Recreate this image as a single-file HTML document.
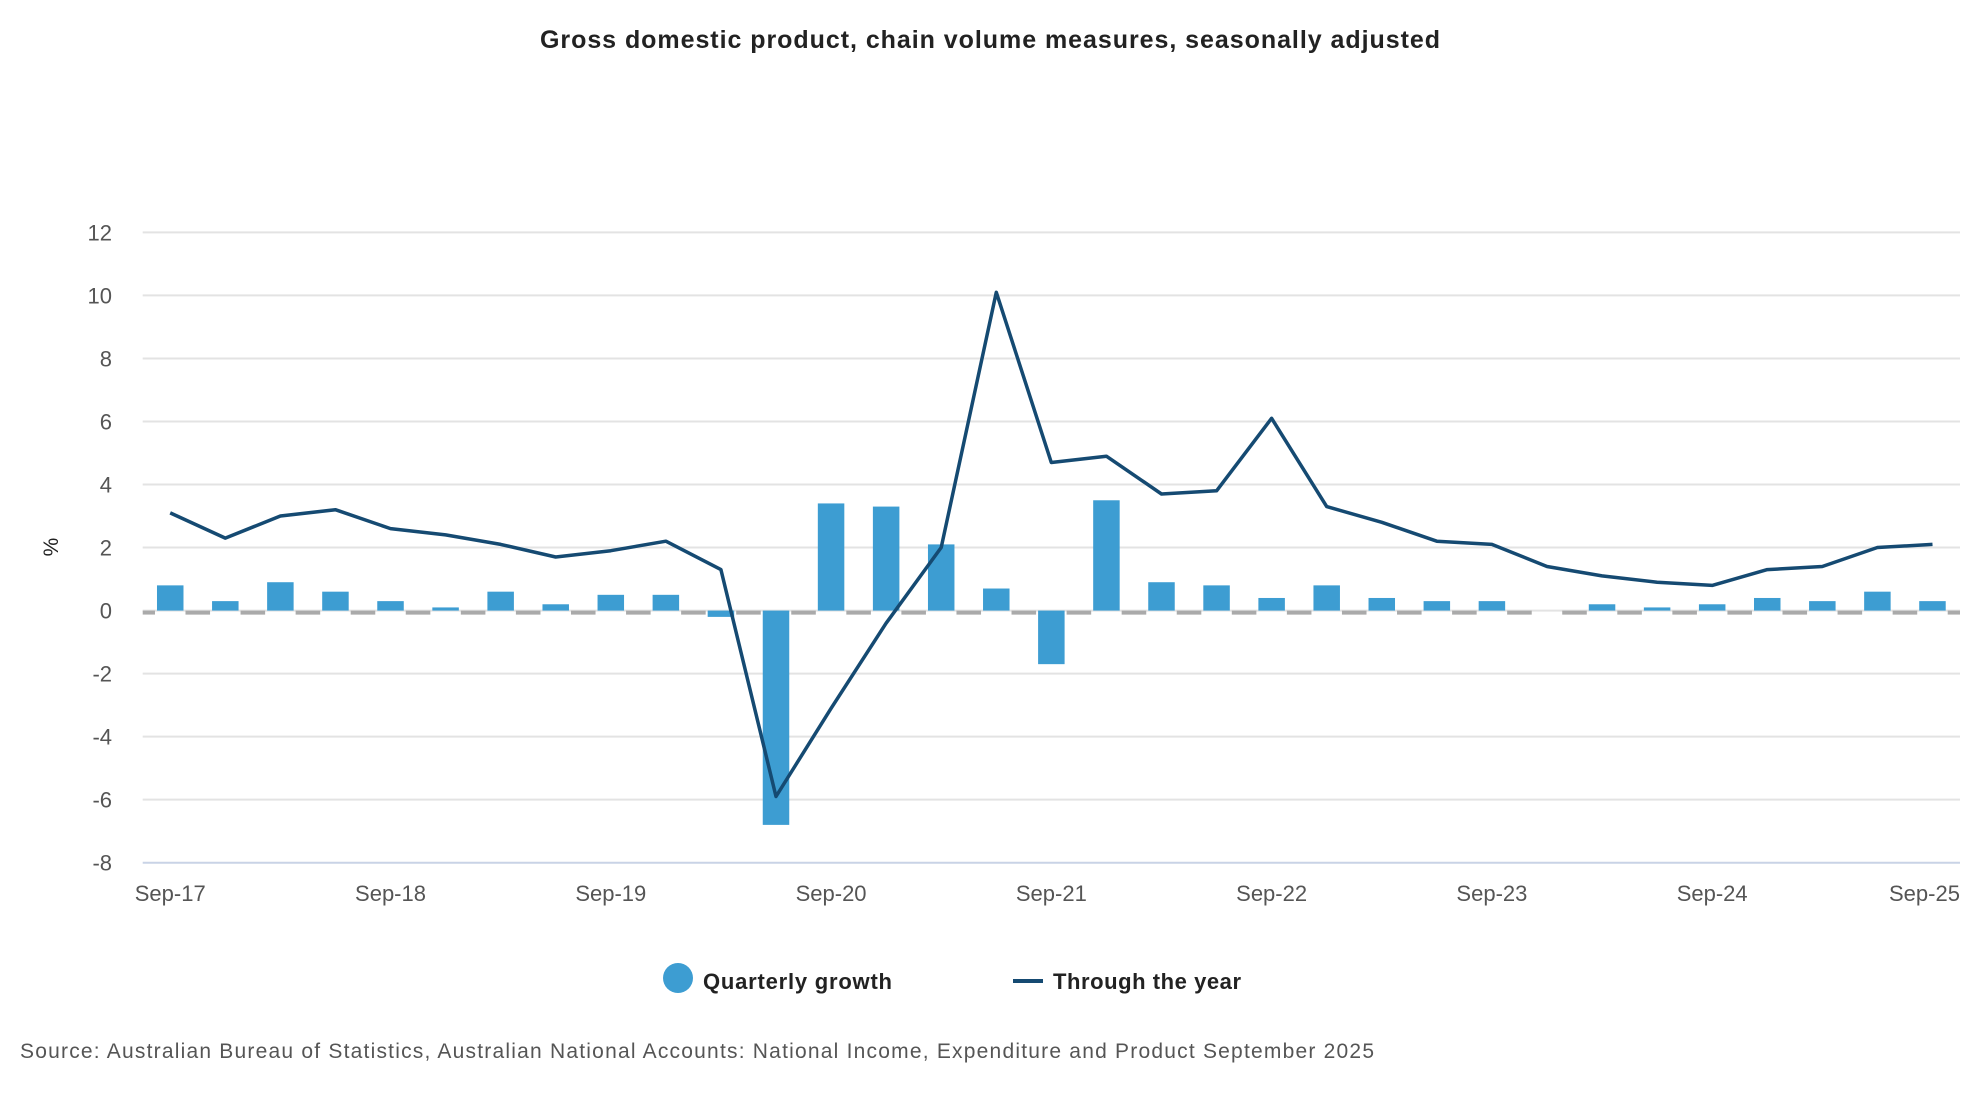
<!DOCTYPE html>
<html><head><meta charset="utf-8"><style>
html,body{margin:0;padding:0;background:#fff;}
svg{display:block;font-family:"Liberation Sans",sans-serif;}
</style></head><body>
<svg id="chart" width="1980" height="1100" viewBox="0 0 1980 1100">
<text x="990" y="48" text-anchor="middle" font-size="25" font-weight="bold" fill="#222" textLength="900">Gross domestic product, chain volume measures, seasonally adjusted</text>
<g id="grid"></g>
<g id="yticks"></g>
<text transform="translate(58,547) rotate(-90)" text-anchor="middle" font-size="21" fill="#222">%</text>
<g id="zero"></g>
<g id="bars"></g>
<path id="line" fill="none" stroke="#154a72" stroke-width="3.5" stroke-linejoin="round"/>
<g id="xticks"></g>
<g>
<circle cx="678" cy="978" r="15" fill="#3d9dd2"/>
<text x="703" y="989" font-size="22" font-weight="bold" fill="#222" textLength="189">Quarterly growth</text>
<line x1="1013" y1="981" x2="1043" y2="981" stroke="#154a72" stroke-width="4"/>
<text x="1053" y="989" font-size="22" font-weight="bold" fill="#222" textLength="188">Through the year</text>
</g>
<text x="20" y="1058" font-size="21" fill="#555" textLength="1354">Source: Australian Bureau of Statistics, Australian National Accounts: National Income, Expenditure and Product September 2025</text>
</svg>
<script>
const categories=["Sep-17","Dec-17","Mar-18","Jun-18","Sep-18","Dec-18","Mar-19","Jun-19","Sep-19","Dec-19","Mar-20","Jun-20","Sep-20","Dec-20","Mar-21","Jun-21","Sep-21","Dec-21","Mar-22","Jun-22","Sep-22","Dec-22","Mar-23","Jun-23","Sep-23","Dec-23","Mar-24","Jun-24","Sep-24","Dec-24","Mar-25","Jun-25","Sep-25"];
const quarterly=[0.8,0.3,0.9,0.6,0.3,0.1,0.6,0.2,0.5,0.5,-0.2,-6.8,3.4,3.3,2.1,0.7,-1.7,3.5,0.9,0.8,0.4,0.8,0.4,0.3,0.3,0.0,0.2,0.1,0.2,0.4,0.3,0.6,0.3];
const throughYear=[3.1,2.3,3.0,3.2,2.6,2.4,2.1,1.7,1.9,2.2,1.3,-5.9,-3.1,-0.4,2.0,10.1,4.7,4.9,3.7,3.8,6.1,3.3,2.8,2.2,2.1,1.4,1.1,0.9,0.8,1.3,1.4,2.0,2.1];
const yTicks=[12,10,8,6,4,2,0,-2,-4,-6,-8];
const xLabelIdx=[0,4,8,12,16,20,24,28,32];
const NS="http://www.w3.org/2000/svg";
const L=142.7,R=1960,yMin=-8,yMax=12,yTop=232.4,yBot=862.7;
const band=(R-L)/categories.length;
const x=i=>L+band*(i+0.5);
const y=v=>yBot-(v-yMin)/(yMax-yMin)*(yBot-yTop);
function mk(tag,attrs,parent){const e=document.createElementNS(NS,tag);for(const k in attrs)e.setAttribute(k,attrs[k]);document.getElementById(parent).appendChild(e);return e;}
yTicks.forEach(t=>{
 const g=mk('line',{x1:L,x2:R,y1:y(t),y2:y(t),stroke:t===yMin?'#c9d3e6':'#e3e3e3','stroke-width':2},'grid');
 
 
 const tx=mk('text',{x:112,y:y(t)+8,'text-anchor':'end','font-size':22,fill:'#555'},'yticks');
 tx.textContent=t;
 
 
});
const bw=26.5;
mk('line',{x1:L,x2:x(0)-bw/2-2,y1:y(0)+2,y2:y(0)+2,stroke:'#aaa','stroke-width':4},'zero');
categories.forEach((c,i)=>{
 const x2=i<categories.length-1?x(i+1)-bw/2-2:R;
 const d=mk('line',{x1:x(i)+bw/2+2,x2:x2,y1:y(0)+2,y2:y(0)+2,stroke:'#aaa','stroke-width':4},'zero');
 
 
 const v=quarterly[i];
 if(v!==0){
  const b=mk('rect',{x:x(i)-bw/2,width:bw,y:Math.min(y(v),y(0)),height:Math.abs(y(v)-y(0)),fill:'#3d9dd2'},'bars');
  
  
 }
});
document.getElementById('line').setAttribute('d',throughYear.map((v,i)=>(i?'L':'M')+x(i).toFixed(1)+' '+y(v).toFixed(1)).join(' '));
xLabelIdx.forEach(i=>{
 const t=mk('text',{x:i===32?x(i)-8:x(i),y:901,'text-anchor':'middle','font-size':22,fill:'#555'},'xticks');
 t.textContent=categories[i];
 
 
});
</script>
</body></html>
